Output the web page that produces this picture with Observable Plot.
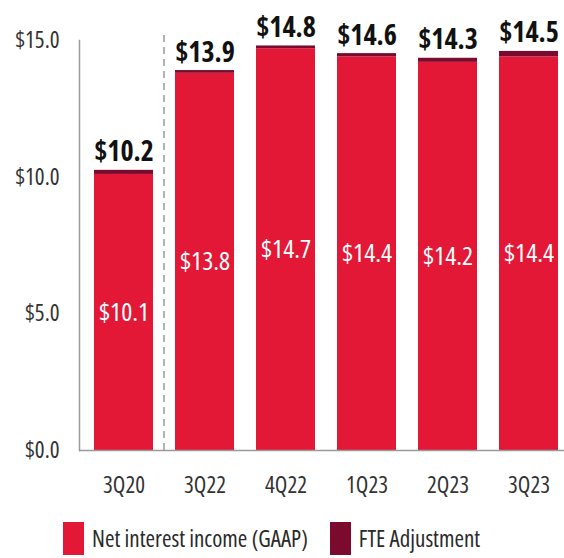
<!DOCTYPE html>
<html>
<head>
<meta charset="utf-8">
<script src="https://cdn.jsdelivr.net/npm/d3@7"></script>
<script src="https://cdn.jsdelivr.net/npm/@observablehq/plot@0.6"></script>
<style>
  body { margin: 0; background: #fff; font-family: "Open Sans", sans-serif; font-stretch: condensed; }
  #chart svg text { font-stretch: condensed; }
  #legend { display: flex; align-items: center; height: 40px; margin-top: 10px; padding-left: 63px; font-size: 23px; color: #2a2a2a; white-space: nowrap; font-stretch: condensed; }
  .sw { width: 21px; height: 33px; display: inline-block; margin-right: 8px; flex: none; }
  .item { display: flex; align-items: center; margin-right: 22px; }
</style>
</head>
<body>
<div id="chart"></div>
<div id="legend"></div>
<script>
const quarters = ["3Q20", "3Q22", "4Q22", "1Q23", "2Q23", "3Q23"];
const gaap = [10.1, 13.8, 14.7, 14.4, 14.2, 14.4];
const fte = [0.15, 0.1, 0.1, 0.12, 0.15, 0.2];
const totals = [10.2, 13.9, 14.8, 14.6, 14.3, 14.5];
const yTicks = [0, 5, 10, 15];
const seriesNames = ["Net interest income (GAAP)", "FTE Adjustment"];
const colors = ["#E31837", "#7A0A2E"];

const rows = [];
quarters.forEach((q, i) => {
  rows.push({q, series: seriesNames[0], v: gaap[i]});
  rows.push({q, series: seriesNames[1], v: fte[i]});
});
const labels = quarters.map((q, i) => ({q, gaap: gaap[i], total: totals[i], top: gaap[i] + fte[i]}));

const plot = Plot.plot({
  width: 564,
  height: 508,
  marginLeft: 79,
  marginRight: 0,
  marginTop: 40,
  marginBottom: 58,
  style: {fontFamily: "'Open Sans', sans-serif", background: "#fff", overflow: "visible", fontStretch: "condensed"},
  x: {domain: quarters, paddingInner: 0.27, paddingOuter: 0.1, align: 0.73, label: null},
  y: {domain: [0, 15], label: null},
  color: {domain: seriesNames, range: colors},
  marks: [
    Plot.barY(rows, {x: "q", y: "v", fill: "series", order: seriesNames}),
    Plot.frame({anchor: "left", stroke: "#9a9a9a", strokeWidth: 1.5}),
    Plot.ruleY([0], {stroke: "#9a9a9a", strokeWidth: 1.5}),
    Plot.ruleX(["3Q22"], {x: d => d, y1: 0, y2: 15.35, dx: -41, stroke: "#8a8a8a", strokeWidth: 1.3, strokeDasharray: "7,5"}),
    Plot.axisY({ticks: yTicks, tickFormat: d => "$" + d.toFixed(1), tickSize: 0, tickPadding: 20, fontSize: 23, fill: "#333", label: null}),
    Plot.axisX({tickSize: 0, tickPadding: 26, fontSize: 23, fill: "#333", label: null}),
    Plot.text(labels, {x: "q", y: d => d.gaap / 2, text: d => "$" + d.gaap.toFixed(1), fill: "white", fontSize: 26, fontWeight: 500}),
    Plot.text(labels, {x: "q", y: "top", text: d => "$" + d.total.toFixed(1), fill: "#111", fontSize: 28, fontWeight: "bold", lineAnchor: "bottom", dy: -9})
  ]
});
document.getElementById("chart").appendChild(plot);

const legend = document.getElementById("legend");
seriesNames.forEach((s, i) => {
  const it = document.createElement("div");
  it.className = "item";
  const sw = document.createElement("span");
  sw.className = "sw";
  sw.style.background = colors[i];
  it.appendChild(sw);
  it.appendChild(document.createTextNode(s));
  legend.appendChild(it);
});
</script>
</body>
</html>
